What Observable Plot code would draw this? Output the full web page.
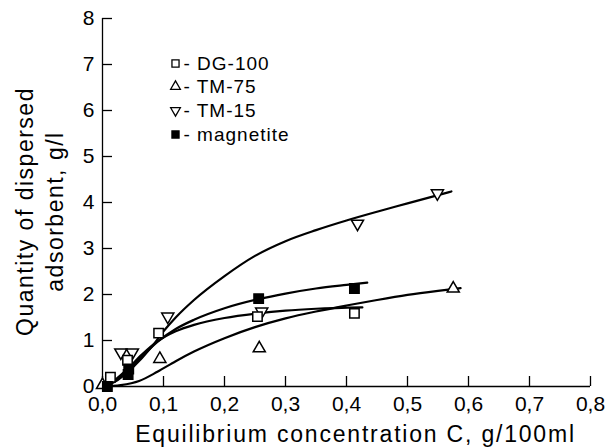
<!DOCTYPE html>
<html><head><meta charset="utf-8">
<script src="https://cdn.jsdelivr.net/npm/d3@7"></script>
<script src="https://cdn.jsdelivr.net/npm/@observablehq/plot@0.6"></script>
<style>
body{margin:0;background:#fff}
#chart svg{font-family:"Liberation Sans",Arial,Helvetica,sans-serif;background:#fff}
</style>
</head><body><div id="chart"></div>
<script>
// Tick values
const xTicks = [0, 0.1, 0.2, 0.3, 0.4, 0.5, 0.6, 0.7, 0.8];
const yTicks = [0, 1, 2, 3, 4, 5, 6, 7, 8];
const xTitle = "Equilibrium concentration C, g/100ml";
const yTitle = "Quantity of dispersed\nadsorbent, g/l";

// Measured points
const dg100X = [0.013, 0.041, 0.092, 0.254, 0.413];
const dg100Y = [0.20, 0.57, 1.16, 1.52, 1.59];
const tm75X = [0.0, 0.094, 0.257, 0.575];
const tm75Y = [0.03, 0.60, 0.83, 2.13];
const tm15X = [0.03, 0.049, 0.107, 0.261, 0.418, 0.549];
const tm15Y = [0.74, 0.74, 1.52, 1.63, 3.54, 4.20];
const magX = [0.008, 0.042, 0.043, 0.256, 0.413];
const magY = [0.0, 0.26, 0.38, 1.91, 2.13];

// Fitted curves
const fitTm15X = [0, 0.02, 0.05, 0.08, 0.10, 0.12, 0.15, 0.20, 0.25, 0.30, 0.35, 0.40, 0.45, 0.50, 0.572];
const fitTm15Y = [0, 0.10, 0.42, 0.85, 1.20, 1.50, 1.88, 2.40, 2.84, 3.16, 3.40, 3.61, 3.80, 3.98, 4.24];
const fitMagX = [0, 0.02, 0.04, 0.065, 0.09, 0.12, 0.15, 0.20, 0.256, 0.30, 0.35, 0.40, 0.434];
const fitMagY = [0, 0.12, 0.33, 0.66, 0.97, 1.25, 1.45, 1.70, 1.90, 2.02, 2.13, 2.21, 2.26];
const fitDgX = [0, 0.02, 0.04, 0.065, 0.09, 0.12, 0.15, 0.20, 0.254, 0.30, 0.35, 0.426];
const fitDgY = [0, 0.14, 0.37, 0.70, 0.98, 1.20, 1.34, 1.49, 1.59, 1.65, 1.69, 1.72];
const fitTm75X = [0, 0.03, 0.06, 0.09, 0.12, 0.15, 0.20, 0.25, 0.30, 0.35, 0.40, 0.45, 0.50, 0.55, 0.587];
const fitTm75Y = [0, 0.03, 0.12, 0.32, 0.55, 0.76, 1.05, 1.29, 1.48, 1.63, 1.76, 1.88, 1.99, 2.08, 2.14];

// Legend
const legendLabels = ["- DG-100", "- TM-75", "- TM-15", "- magnetite"];
const legendSymbols = ["square", "triangle", "triangle", "square"];
const legendRotate = [0, 0, 180, 0];
const legendFill = ["white", "white", "white", "black"];

const zip = (xs, ys) => xs.map((x, i) => ({x, y: ys[i]}));
const fmt = d => d.toFixed(1).replace(".", ",");

const curves = [
  zip(fitTm15X, fitTm15Y), zip(fitMagX, fitMagY), zip(fitDgX, fitDgY), zip(fitTm75X, fitTm75Y)
];

const legendRows = [45, 68, 92, 116];
const legendMarks = legendLabels.flatMap((lab, i) => [
  Plot.dot([lab], {frameAnchor: "top-left", dx: 73, dy: legendRows[i], symbol: legendSymbols[i],
    rotate: legendRotate[i], r: legendSymbols[i] === "square" ? 4 : 3.6, stroke: "black",
    strokeWidth: 1.3, fill: legendFill[i]}),
  Plot.text([lab], {frameAnchor: "top-left", dx: 81, dy: legendRows[i], text: d => d,
    textAnchor: "start", lineAnchor: "middle", fontSize: 19, fill: "black"})
]);

const chart = Plot.plot({
  width: 608,
  height: 447,
  marginLeft: 102,
  marginRight: 18,
  marginTop: 18,
  marginBottom: 61,
  style: {fontFamily: '"Liberation Sans", Arial, sans-serif', background: "white", color: "black"},
  x: {domain: [0, 0.8]},
  y: {domain: [0, 8]},
  marks: [
    Plot.axisX(xTicks, {tickSize: -10, tickFormat: () => "", label: null, strokeWidth: 1.3}),
    Plot.axisX(xTicks, {tickSize: 0, tickPadding: 10, tickFormat: fmt, label: null, fontSize: 21, fill: "black"}),
    Plot.axisY(yTicks, {tickSize: -10, tickFormat: () => "", label: null, strokeWidth: 1.3}),
    Plot.axisY(yTicks, {tickSize: 0, tickPadding: 8, tickFormat: d => String(d), label: null, fontSize: 21, fill: "black"}),
    Plot.ruleX([0], {stroke: "black", strokeWidth: 1.3}),
    Plot.ruleY([0], {stroke: "black", strokeWidth: 1.3}),
    ...curves.map(c => Plot.line(c, {x: "x", y: "y", curve: "monotone-x", stroke: "black", strokeWidth: 2.2})),
    Plot.dot(zip(tm75X, tm75Y), {x: "x", y: "y", symbol: "triangle", r: 4.5, stroke: "black", strokeWidth: 1.5, fill: "white"}),
    Plot.dot(zip(tm15X, tm15Y), {x: "x", y: "y", symbol: "triangle", rotate: 180, r: 4.5, stroke: "black", strokeWidth: 1.5, fill: "white"}),
    Plot.dot(zip(dg100X, dg100Y), {x: "x", y: "y", symbol: "square", r: 5.3, stroke: "black", strokeWidth: 1.5, fill: "white"}),
    Plot.dot(zip(magX, magY), {x: "x", y: "y", symbol: "square", r: 5.3, stroke: "black", strokeWidth: 1.5, fill: "black"}),
    ...legendMarks,
    Plot.text([xTitle], {frameAnchor: "bottom", dx: 9, dy: 48, text: d => d, fontSize: 23, textAnchor: "middle", lineAnchor: "middle", fill: "black"}),
    Plot.text([yTitle], {frameAnchor: "left", dx: -64, dy: 9, text: d => d, rotate: -90, fontSize: 23, lineHeight: 1.3, textAnchor: "middle", lineAnchor: "middle", fill: "black"})
  ]
});
document.getElementById("chart").appendChild(chart);

// Wider tracking of the titles and legend, as in the reference
const svg = d3.select(chart);
svg.selectAll("text").each(function () {
  const t = this.textContent;
  if (t.startsWith("Equilibrium")) {
    this.setAttribute("letter-spacing", "1.8");
  } else if (t.startsWith("Quantity")) {
    this.setAttribute("letter-spacing", "1.5");
  } else if (legendLabels.includes(t)) {
    this.setAttribute("letter-spacing", "1");
  }
});
</script>
</body></html>
